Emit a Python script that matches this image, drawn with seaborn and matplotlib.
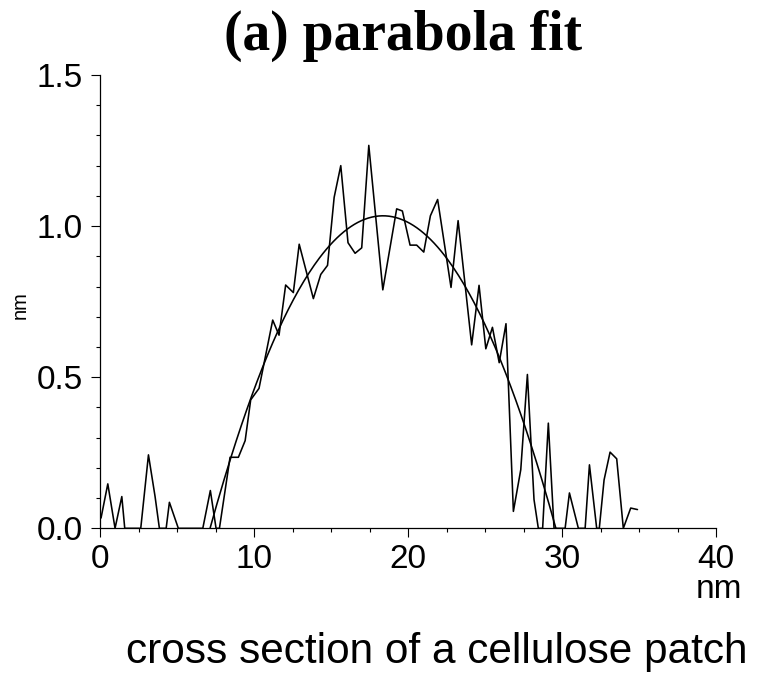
import numpy as np
import matplotlib
matplotlib.use("Agg")
import matplotlib.pyplot as plt
from matplotlib.ticker import MultipleLocator, FormatStrFormatter
import seaborn as sns

# AFM height profile across a cellulose patch (nm vs nm)
profile_x = [0.06, 0.5, 0.97, 1.41, 1.6, 2.64, 3.14, 3.57, 3.85, 4.29, 4.5, 5.08,
             6.67, 7.16, 7.53, 7.75, 8.44, 8.98, 9.42, 9.78, 10.32, 11.21, 11.62,
             12.05, 12.55, 12.93, 13.85, 14.33, 14.77, 15.2, 15.63, 16.1, 16.56,
             16.99, 17.45, 18.36, 19.26, 19.63, 20.13, 20.56, 21.02, 21.45, 21.92,
             22.79, 23.25, 24.13, 24.61, 25.05, 25.48, 25.92, 26.36, 26.84, 27.32,
             27.75, 28.18, 28.46, 28.74, 29.11, 29.48, 30.2, 30.48, 31.06, 31.5,
             31.78, 32.25, 32.42, 32.73, 33.12, 33.55, 33.98, 34.46, 34.9]
profile_y = [0.034, 0.147, 0.0, 0.105, 0.0, 0.0, 0.243, 0.105, 0.0, 0.0, 0.086, 0.0,
             0.0, 0.125, 0.0, 0.0, 0.235, 0.235, 0.29, 0.425, 0.463, 0.689, 0.639,
             0.805, 0.78, 0.94, 0.76, 0.84, 0.87, 1.095, 1.2, 0.945, 0.91,
             0.928, 1.267, 0.789, 1.057, 1.05, 0.937, 0.937, 0.914, 1.034, 1.088,
             0.797, 1.018, 0.607, 0.804, 0.594, 0.665, 0.548, 0.677, 0.056, 0.194,
             0.509, 0.095, 0.0, 0.0, 0.348, 0.0, 0.0, 0.117, 0.0, 0.0,
             0.21, 0.0, 0.0, 0.16, 0.252, 0.23, 0.0, 0.067, 0.062]

# parabola fit parameters
fit_center = 18.37
fit_peak = 1.034
fit_left_zero = 7.14
fit_right_zero = 29.6

x_ticks = [0, 10, 20, 30, 40]
y_ticks = [0.0, 0.5, 1.0, 1.5]

sns.set_style("ticks")
plt.rcParams['font.family'] = ['Liberation Sans', 'DejaVu Sans']
plt.rcParams['text.color'] = 'black'
plt.rcParams['axes.labelcolor'] = 'black'
plt.rcParams['xtick.color'] = 'black'
plt.rcParams['ytick.color'] = 'black'
plt.rcParams['axes.edgecolor'] = 'black'

fig = plt.figure(figsize=(7.76, 6.73), dpi=100)
ax = fig.add_axes([0.129, 0.215, 0.7937, 0.6736])

sns.lineplot(x=profile_x, y=profile_y, sort=False, estimator=None,
             color='black', linewidth=1.15, ax=ax)

half_width = (fit_right_zero - fit_left_zero) / 2
fit_x = np.linspace(fit_left_zero, fit_right_zero, 200)
fit_y = fit_peak * (1 - ((fit_x - fit_center) / half_width) ** 2)
sns.lineplot(x=fit_x, y=fit_y, sort=False, estimator=None,
             color='black', linewidth=1.15, ax=ax)

ax.set_xlim(0, 40)
ax.set_ylim(0, 1.5)
ax.set_xticks(x_ticks)
ax.set_yticks(y_ticks)
ax.xaxis.set_minor_locator(MultipleLocator(2.5))
ax.yaxis.set_minor_locator(MultipleLocator(0.1))
ax.yaxis.set_major_formatter(FormatStrFormatter('%.1f'))
ax.tick_params(which='major', direction='out', length=6.5, width=0.8,
               labelsize=24, colors='black', pad=5)
ax.tick_params(which='minor', direction='out', length=3, width=0.8, colors='black')
ax.tick_params(axis='y', which='major', pad=6)
for side in ['top', 'right']:
    ax.spines[side].set_visible(False)
for side in ['left', 'bottom']:
    ax.spines[side].set_linewidth(0.9)
    ax.spines[side].set_color('black')

ax.set_ylabel('nm', fontsize=14.5, color='black')
ax.yaxis.set_label_coords(-0.114, 0.493)
ax.set_xlabel('')

fig.text(742 / 776, 1 - 590 / 673, 'nm', fontsize=24, ha='right', va='center',
         color='black')
fig.text(437 / 776, 1 - 663 / 673, 'cross section of a cellulose patch',
         fontsize=30.5, ha='center', va='baseline', color='black')
fig.text(403 / 776, 1 - 50 / 673, '(a) parabola fit', fontsize=40,
         fontweight='bold', family='Liberation Serif', ha='center', va='baseline',
         color='black')

fig.savefig('out.png', dpi=100)
